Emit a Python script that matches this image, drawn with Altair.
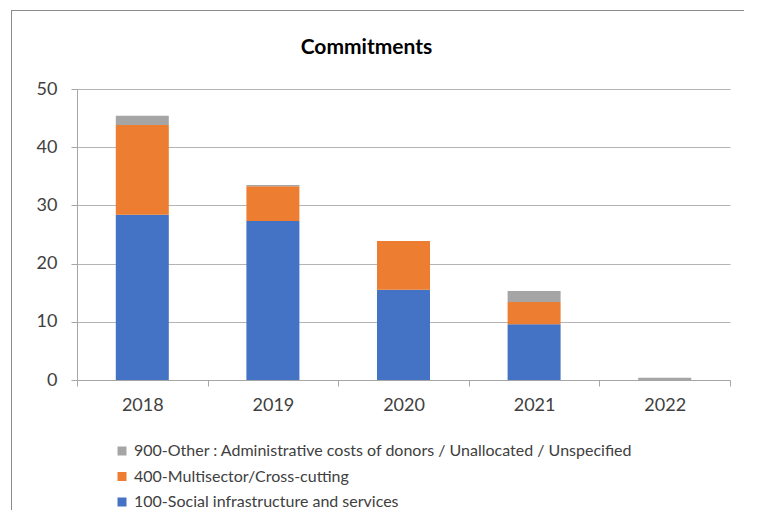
import altair as alt
import pandas as pd

years = ["2018", "2019", "2020", "2021", "2022"]
social = [28.4, 27.3, 15.5, 9.6, 0.0]
multisector = [15.4, 6.0, 8.4, 3.8, 0.0]
other = [1.6, 0.2, 0.0, 1.9, 0.4]

series = [
    "900-Other : Administrative costs of donors / Unallocated / Unspecified",
    "400-Multisector/Cross-cutting",
    "100-Social infrastructure and services",
]
colors = ["#A5A5A5", "#ED7D31", "#4472C4"]

rows = []
for i, y in enumerate(years):
    rows.append({"year": y, "sector": series[2], "value": social[i], "ord": 0})
    rows.append({"year": y, "sector": series[1], "value": multisector[i], "ord": 1})
    rows.append({"year": y, "sector": series[0], "value": other[i], "ord": 2})
df = pd.DataFrame(rows)

FONT = "Lato"
AXC = "#A6A6A6"

bars = alt.Chart(df).mark_bar(size=53).encode(
    x=alt.X("year:N", title=None, sort=years,
            scale=alt.Scale(paddingInner=0, paddingOuter=0),
            axis=alt.Axis(labelAngle=0, labelFontSize=18, labelColor="#404040",
                          labelFont=FONT, tickBand="extent", tickSize=6,
                          tickColor=AXC, domainColor=AXC,
                          labelPadding=10, grid=False)),
    y=alt.Y("value:Q", title=None, stack="zero",
            scale=alt.Scale(domain=[0, 50]),
            axis=alt.Axis(values=[0, 10, 20, 30, 40, 50], labelFontSize=18,
                          labelColor="#404040", labelFont=FONT, domain=True,
                          domainColor=AXC, ticks=True, tickSize=6, tickColor=AXC,
                          labelPadding=14, gridColor="#B4B4B4")),
    color=alt.Color("sector:N", title=None,
                    scale=alt.Scale(domain=series, range=colors),
                    legend=alt.Legend(orient="none", legendX=37, legendY=354,
                                      symbolType="square", symbolSize=81,
                                      symbolStrokeWidth=0, labelFontSize=16,
                                      labelFont=FONT, labelColor="#404040",
                                      rowPadding=9.5, labelLimit=700)),
    order=alt.Order("ord:Q", sort="ascending"),
)

top_border = alt.Chart(df).mark_rule(color="#8C8C8C", strokeWidth=1).encode(
    x=alt.value(-65), x2=alt.value(667), y=alt.value(-78.5)
)
left_border = alt.Chart(df).mark_rule(color="#8C8C8C", strokeWidth=1).encode(
    x=alt.value(-65.5), y=alt.value(-78.5), y2=alt.value(421)
)

chart = alt.layer(bars, top_border, left_border).properties(
    width=653, height=291,
    title=alt.TitleParams("Commitments", fontSize=21, font=FONT, fontWeight="bold",
                          color="#000000", dx=-37, offset=-48, frame="group"),
    autosize=alt.AutoSizeParams(type="none"),
    padding={"left": 69, "top": 81, "right": 22, "bottom": 130},
).configure_view(stroke=None)

chart.save("out.html", embed_options={"renderer": "svg", "actions": False})
